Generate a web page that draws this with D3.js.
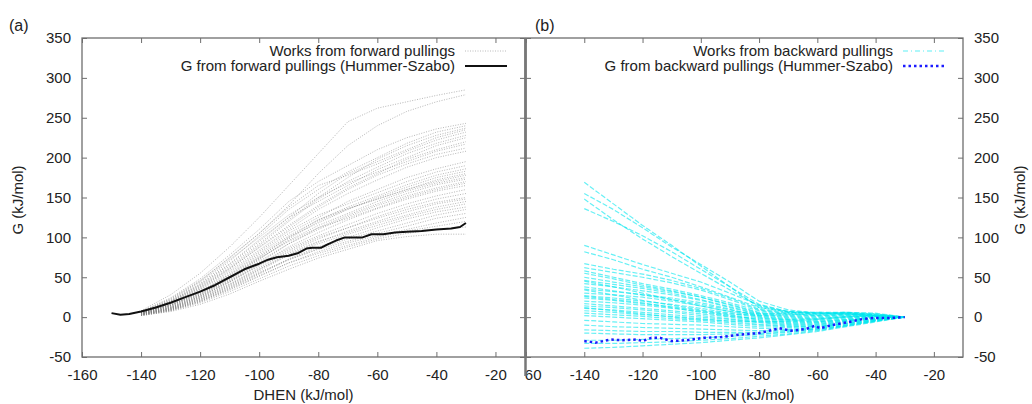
<!DOCTYPE html>
<html>
<head>
<meta charset="utf-8">
<script src="https://cdn.jsdelivr.net/npm/d3@7"></script>
<style>
  body { margin: 0; background: #fff; }
  svg { display: block; font-family: 'Liberation Sans', Arial, sans-serif; }
</style>
</head>
<body>
<svg id="chart" width="1032" height="404"></svg>
<script>
(() => {
  const xTicks = [-160, -140, -120, -100, -80, -60, -40, -20]
  const yTicks = [-50, 0, 50, 100, 150, 200, 250, 300, 350]
  const workX = [-140, -130, -120, -110, -100, -90, -80, -70, -60, -50, -40, -30]

  // forward pulling works (kJ/mol), one row per pulling, sampled at workX
  const forwardWorks = [
    [8, 28, 55, 88, 125, 165, 205, 245, 262, 270, 278, 285],
    [6, 22, 45, 75, 105, 140, 180, 215, 240, 258, 270, 279],
    [7, 24, 48, 78, 110, 145, 170, 190, 210, 225, 236, 243],
    [5, 20, 42, 70, 102, 135, 160, 182, 200, 218, 232, 240],
    [6, 21, 44, 72, 100, 128, 150, 175, 198, 215, 228, 237],
    [5, 19, 40, 66, 95, 125, 155, 180, 195, 210, 225, 235],
    [7, 23, 46, 74, 105, 138, 165, 178, 192, 208, 222, 232],
    [5, 18, 38, 62, 90, 120, 148, 170, 188, 205, 218, 228],
    [6, 20, 41, 67, 97, 125, 145, 165, 185, 200, 215, 225],
    [4, 17, 36, 60, 88, 115, 140, 162, 180, 198, 210, 220],
    [6, 19, 39, 64, 92, 122, 150, 168, 182, 195, 208, 217],
    [5, 18, 37, 61, 87, 113, 138, 160, 178, 192, 204, 212],
    [5, 17, 35, 58, 84, 110, 135, 155, 172, 188, 200, 208],
    [4, 15, 32, 54, 80, 105, 125, 145, 160, 175, 186, 195],
    [5, 16, 34, 56, 82, 108, 128, 142, 156, 170, 182, 190],
    [4, 14, 30, 50, 75, 100, 122, 138, 152, 166, 178, 186],
    [5, 15, 31, 52, 76, 100, 118, 135, 150, 163, 175, 183],
    [4, 13, 28, 48, 72, 98, 120, 136, 148, 160, 172, 180],
    [5, 15, 32, 53, 78, 102, 122, 136, 148, 160, 170, 178],
    [4, 14, 29, 49, 73, 96, 115, 130, 145, 158, 168, 175],
    [3, 12, 27, 46, 68, 92, 112, 128, 142, 155, 166, 173],
    [4, 13, 28, 47, 70, 92, 110, 126, 140, 152, 162, 170],
    [5, 15, 30, 50, 74, 95, 112, 124, 137, 150, 160, 168],
    [3, 11, 25, 44, 66, 88, 106, 122, 136, 148, 158, 165],
    [4, 12, 26, 45, 66, 86, 102, 116, 130, 142, 152, 160],
    [3, 11, 24, 42, 62, 82, 98, 112, 126, 138, 148, 155],
    [4, 12, 26, 44, 64, 84, 100, 112, 124, 135, 144, 150],
    [3, 10, 22, 39, 58, 78, 94, 108, 120, 132, 142, 148],
    [3, 10, 23, 40, 60, 80, 95, 106, 118, 128, 138, 145],
    [4, 11, 24, 41, 60, 78, 92, 104, 115, 126, 135, 142],
    [3, 9, 21, 37, 55, 73, 88, 100, 112, 123, 132, 138],
    [2, 9, 20, 36, 54, 72, 86, 98, 108, 118, 128, 135],
    [3, 10, 22, 38, 56, 72, 85, 95, 105, 114, 124, 130],
    [2, 8, 19, 34, 51, 68, 82, 93, 102, 110, 118, 125],
    [3, 9, 20, 35, 52, 68, 80, 90, 100, 108, 114, 120],
    [2, 8, 18, 32, 48, 64, 77, 88, 98, 105, 110, 113],
    [2, 7, 16, 29, 45, 60, 74, 85, 96, 101, 104, 104]
  ]

  // backward pulling works, same sampling
  const backwardWorks = [
    [169, 142, 115, 90, 64, 38, 12, 7, 6, 5, 4, 0],
    [155, 135, 112, 88, 66, 44, 20, 9, 5, 6, 3, 0],
    [148, 122, 98, 76, 55, 34, 14, 6, 4, 5, 2, 0],
    [136, 120, 102, 82, 60, 38, 16, 7, 5, 4, 3, 0],
    [90, 78, 66, 55, 44, 30, 15, 7, 4, 5, 3, 0],
    [82, 72, 60, 50, 38, 25, 12, 6, 5, 4, 2, 0],
    [67, 60, 54, 46, 36, 24, 10, 5, 3, 4, 2, 0],
    [62, 56, 50, 43, 34, 22, 9, 4, 2, 3, 2, 0],
    [58, 50, 42, 35, 27, 18, 8, 3, 2, 4, 1, 0],
    [55, 48, 40, 33, 25, 16, 6, 2, 1, 3, 2, 0],
    [50, 44, 38, 32, 25, 15, 5, 1, 0, 2, 1, 0],
    [46, 41, 36, 30, 22, 13, 4, 0, -1, 1, 1, 0],
    [42, 38, 33, 28, 21, 12, 3, -1, -2, 0, 1, 0],
    [38, 33, 28, 22, 16, 9, 2, -2, -3, 0, 0, 0],
    [35, 32, 28, 24, 18, 10, 1, -3, -4, -1, 0, 0],
    [30, 28, 25, 20, 14, 7, 0, -4, -5, -2, -1, 0],
    [27, 24, 20, 16, 11, 5, -1, -5, -6, -3, -1, 0],
    [24, 21, 17, 13, 8, 3, -3, -6, -6, -3, -1, 0],
    [20, 18, 15, 11, 7, 2, -4, -7, -7, -4, -2, 0],
    [17, 14, 11, 8, 4, 0, -5, -8, -8, -4, -1, 0],
    [14, 12, 9, 6, 2, -2, -6, -9, -9, -5, -2, 0],
    [11, 9, 6, 3, 0, -3, -7, -10, -10, -5, -2, 0],
    [8, 6, 3, 1, -2, -5, -9, -11, -11, -6, -3, 0],
    [5, 3, 1, -2, -4, -7, -10, -12, -12, -7, -3, 0],
    [2, 0, -2, -4, -6, -9, -12, -13, -12, -8, -3, 0],
    [-4, -6, -8, -9, -10, -12, -14, -15, -13, -8, -4, 0],
    [-10, -12, -13, -14, -15, -16, -17, -16, -14, -9, -4, 0],
    [-16, -17, -18, -18, -19, -19, -19, -17, -15, -10, -5, 0],
    [-20, -21, -22, -22, -22, -21, -21, -18, -15, -10, -4, 0],
    [-29, -29, -28, -27, -26, -24, -22, -19, -16, -11, -5, 0],
    [-33, -33, -32, -31, -29, -27, -24, -21, -17, -11, -5, 0],
    [-39, -38, -36, -34, -32, -29, -26, -22, -18, -12, -6, 0],
    [26, 22, 18, 12, 6, 1, -2, -3, -2, 1, 2, 0],
    [34, 28, 21, 15, 9, 4, 2, 3, 4, 6, 4, 0],
    [45, 38, 30, 22, 14, 7, 4, 5, 6, 6, 5, 0],
    [12, 8, 4, 0, -3, -5, -6, -5, -3, 0, 2, 0]
  ]

  // Hummer-Szabo free energy profiles
  const forwardGX = [-150, -147, -144, -140, -135, -130, -125, -120, -115, -110, -105, -100, -97, -94, -90, -87, -84, -82, -79, -77, -74, -71, -68, -65, -62, -58, -54, -50, -45, -40, -35, -32, -30]
  const forwardG = [5, 3, 4, 7, 12, 18, 25, 32, 40, 50, 60, 67, 72, 75, 77, 80, 86, 87, 87, 91, 96, 100, 100, 100, 104, 104, 106, 107, 108, 110, 111, 113, 118]
  const backwardGX = [-140, -136, -131, -127, -122, -120, -117, -114, -110, -105, -99, -93, -87, -80, -73, -69, -64, -61, -59, -55, -49, -44, -40, -35, -30]
  const backwardG = [-30, -32, -28, -29, -28, -30, -26, -26, -30, -29, -26, -25, -22, -20, -14, -17, -15, -11, -14, -10, -6, -2, -1, -1, 0]

  const svg = d3.select('#chart')
  const top = 38
  const bottom = 357
  const axisColor = '#6e6e6e'
  const textColor = '#222'

  const yScale = d3.scaleLinear().domain([-50, 350]).range([bottom, top])

  const toPoints = (xs, ys) => xs.map((x, i) => [x, ys[i]])
  const plainNumber = d => String(d)

  const drawPanel = ({ left, right, side, works, workStyle, gLine, gStyle, legend, tag, tagX }) => {
    const xScale = d3.scaleLinear().domain([-160, -10]).range([left, right])
    const g = svg.append('g')

    g.append('rect')
      .attr('x', left - (side === 'left' ? 82 : 0))
      .attr('y', 0)
      .attr('width', right - left + 82)
      .attr('height', 404)
      .attr('fill', '#fff')

    const line = d3.line()
      .x(d => xScale(d[0]))
      .y(d => yScale(d[1]))

    g.append('g')
      .selectAll('path')
      .data(works)
      .join('path')
        .attr('d', row => line(toPoints(workX, row)))
        .attr('fill', 'none')
        .attr('stroke', workStyle.color)
        .attr('stroke-width', workStyle.width)
        .attr('stroke-dasharray', workStyle.dash)
        .attr('opacity', workStyle.opacity)

    g.append('path')
      .datum(toPoints(gLine.x, gLine.y))
      .attr('d', line)
      .attr('fill', 'none')
      .attr('stroke', gStyle.color)
      .attr('stroke-width', gStyle.width)
      .attr('stroke-dasharray', gStyle.dash)
      .attr('stroke-linejoin', 'round')

    // inward ticks on all four sides, gnuplot style
    const styleAxis = sel => {
      sel.select('.domain').remove()
      sel.selectAll('.tick line').attr('stroke', axisColor)
      sel.selectAll('.tick text')
        .attr('fill', textColor)
        .attr('font-size', 15)
        .attr('font-family', "'Liberation Sans', Arial, sans-serif")
    }
    g.append('g')
      .attr('transform', `translate(0,${bottom})`)
      .call(d3.axisBottom(xScale).tickValues(xTicks).tickSize(-5).tickPadding(12).tickFormat(plainNumber))
      .call(styleAxis)
    g.append('g')
      .attr('transform', `translate(0,${top})`)
      .call(d3.axisTop(xScale).tickValues(xTicks).tickSize(-5).tickFormat(''))
      .call(styleAxis)
    g.append('g')
      .attr('transform', `translate(${left},0)`)
      .call(d3.axisLeft(yScale).tickValues(yTicks).tickSize(-5).tickPadding(11)
        .tickFormat(side === 'left' ? plainNumber : ''))
      .call(styleAxis)
    g.append('g')
      .attr('transform', `translate(${right},0)`)
      .call(d3.axisRight(yScale).tickValues(yTicks).tickSize(-5).tickPadding(11)
        .tickFormat(side === 'right' ? plainNumber : ''))
      .call(styleAxis)

    g.append('rect')
      .attr('x', left)
      .attr('y', top)
      .attr('width', right - left)
      .attr('height', bottom - top)
      .attr('fill', 'none')
      .attr('stroke', axisColor)
      .attr('stroke-width', 1.3)

    // legend
    legend.forEach((item, i) => {
      const y = 51 + i * 15
      g.append('text')
        .attr('x', item.textEnd)
        .attr('y', y)
        .attr('dy', '0.35em')
        .attr('text-anchor', 'end')
        .attr('font-size', 15)
        .attr('fill', textColor)
        .text(item.label)
      g.append('line')
        .attr('x1', item.textEnd + 10)
        .attr('x2', item.textEnd + 52)
        .attr('y1', y)
        .attr('y2', y)
        .attr('stroke', item.style.color)
        .attr('stroke-width', item.style.width)
        .attr('stroke-dasharray', item.style.dash)
        .attr('opacity', item.style.legendOpacity || 1)
    })

    g.append('text')
      .attr('x', (left + right) / 2)
      .attr('y', 395)
      .attr('dy', '0.35em')
      .attr('text-anchor', 'middle')
      .attr('font-size', 15)
      .attr('fill', textColor)
      .text('DHEN (kJ/mol)')

    const yTitleX = side === 'left' ? 18 : 1020
    g.append('text')
      .attr('transform', `translate(${yTitleX},200) rotate(-90)`)
      .attr('dy', '0.35em')
      .attr('text-anchor', 'middle')
      .attr('font-size', 15)
      .attr('fill', textColor)
      .text('G (kJ/mol)')

    g.append('text')
      .attr('x', tagX)
      .attr('y', 25)
      .attr('dy', '0.35em')
      .attr('font-size', 16)
      .attr('fill', textColor)
      .text(tag)
  }

  const grayWorks = { color: '#7a7a7a', width: 1, dash: '1,1.5', opacity: 0.55, legendOpacity: 0.5 }
  const blackG = { color: '#111', width: 2, dash: null }
  const cyanWorks = { color: '#00e6ef', width: 1.2, dash: '5,2', opacity: 0.6 }
  const blueG = { color: '#1c1cff', width: 2.5, dash: '2.5,3' }

  drawPanel({
    left: 526, right: 963, side: 'right',
    works: backwardWorks, workStyle: cyanWorks,
    gLine: { x: backwardGX, y: backwardG }, gStyle: blueG,
    legend: [
      { label: 'Works from backward pullings', textEnd: 893, style: { color: '#5ff0f5', width: 1.2, dash: '5,3,1,3' } },
      { label: 'G from backward pullings (Hummer-Szabo)', textEnd: 893, style: blueG }
    ],
    tag: '(b)', tagX: 535
  })

  drawPanel({
    left: 82, right: 525, side: 'left',
    works: forwardWorks, workStyle: grayWorks,
    gLine: { x: forwardGX, y: forwardG }, gStyle: blackG,
    legend: [
      { label: 'Works from forward pullings', textEnd: 455, style: grayWorks },
      { label: 'G from forward pullings (Hummer-Szabo)', textEnd: 455, style: blackG }
    ],
    tag: '(a)', tagX: 9
  })

  svg.append('line')
    .attr('x1', 525.5).attr('x2', 525.5)
    .attr('y1', top).attr('y2', 376)
    .attr('stroke', '#777')
    .attr('stroke-width', 2.5)
})()
</script>
</body>
</html>
